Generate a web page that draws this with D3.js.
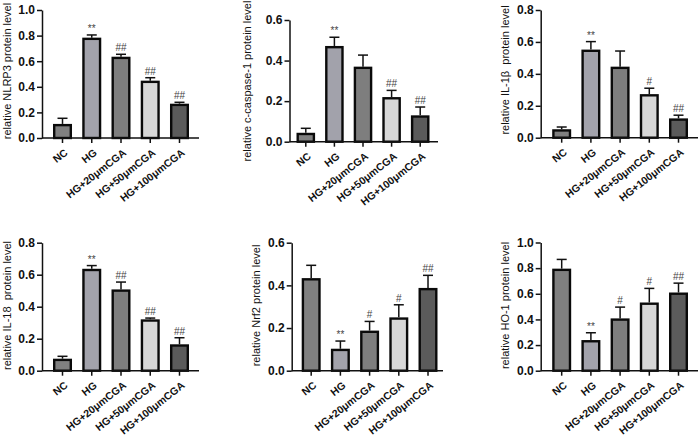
<!DOCTYPE html>
<html>
<head>
<meta charset="utf-8">
<script src="https://cdn.jsdelivr.net/npm/d3@7"></script>
<style>
  html, body { margin: 0; padding: 0; background: #fff; }
  svg { display: block; font-family: "Liberation Sans", Arial, sans-serif; }
</style>
</head>
<body>
<svg id="chart" width="700" height="437"></svg>
<script>
// ---------- data ----------
const categories = ["NC", "HG", "HG+20μmCGA", "HG+50μmCGA", "HG+100μmCGA"];
const barColors = ["#808080", "#a2a2ab", "#7e7e7e", "#d7d7d7", "#5b5b5b"];

const nlrp3Mean = [0.110, 0.784, 0.635, 0.448, 0.268];
const nlrp3Err  = [0.044, 0.021, 0.019, 0.023, 0.011];
const nlrp3Sig  = ["", "**", "##", "##", "##"];

const casp1Mean = [0.044, 0.472, 0.370, 0.220, 0.130];
const casp1Err  = [0.022, 0.043, 0.057, 0.033, 0.041];
const casp1Sig  = ["", "**", "", "##", "##"];

const il1bMean = [0.053, 0.552, 0.445, 0.273, 0.121];
const il1bErr  = [0.014, 0.050, 0.098, 0.037, 0.020];
const il1bSig  = ["", "**", "", "#", "##"];

const il18Mean = [0.075, 0.637, 0.508, 0.321, 0.165];
const il18Err  = [0.015, 0.020, 0.046, 0.008, 0.041];
const il18Sig  = ["", "**", "##", "##", "##"];

const nrf2Mean = [0.434, 0.103, 0.188, 0.250, 0.388];
const nrf2Err  = [0.060, 0.036, 0.043, 0.059, 0.059];
const nrf2Sig  = ["", "**", "#", "#", "##"];

const ho1Mean = [0.796, 0.239, 0.408, 0.532, 0.610];
const ho1Err  = [0.072, 0.057, 0.088, 0.110, 0.073];
const ho1Sig  = ["", "**", "#", "#", "##"];

const ticks10 = [0, 0.2, 0.4, 0.6, 0.8, 1.0];
const ticks08 = [0, 0.2, 0.4, 0.6, 0.8];
const ticks06 = [0, 0.2, 0.4, 0.6];

const yLabels = [
  "relative NLRP3 protein level",
  "relative c-caspase-1 protein level",
  "relative IL-1β  protein level",
  "relative IL-18  protein level",
  "relative Nrf2 protein level",
  "relative HO-1 protein level"
];

// ---------- layout ----------
const panels = [
  {mean: nlrp3Mean, err: nlrp3Err, sig: nlrp3Sig, ticks: ticks10, label: yLabels[0],
   ax: 42, axEnd: 199, yTop: 10, yBot: 138, padL: 11, padR: 10, labX: 7, labY: 71},
  {mean: casp1Mean, err: casp1Err, sig: casp1Sig, ticks: ticks06, label: yLabels[1],
   ax: 289.5, axEnd: 438, yTop: 20, yBot: 141.7, padL: 7, padR: 8.5, labX: 246.5, labY: 81},
  {mean: il1bMean, err: il1bErr, sig: il1bSig, ticks: ticks08, label: yLabels[2],
   ax: 540.7, axEnd: 698, yTop: 10, yBot: 137.7, padL: 11.5, padR: 10, labX: 505, labY: 70},
  {mean: il18Mean, err: il18Err, sig: il18Sig, ticks: ticks08, label: yLabels[3],
   ax: 42, axEnd: 199, yTop: 242.7, yBot: 370.7, padL: 11, padR: 10, labX: 7, labY: 305.5},
  {mean: nrf2Mean, err: nrf2Err, sig: nrf2Sig, ticks: ticks06, label: yLabels[4],
   ax: 291.7, axEnd: 443, yTop: 242.7, yBot: 370.7, padL: 10, padR: 5.5, labX: 255.5, labY: 305.5},
  {mean: ho1Mean, err: ho1Err, sig: ho1Sig, ticks: ticks10, label: yLabels[5],
   ax: 540.7, axEnd: 698, yTop: 242.5, yBot: 370.7, padL: 11.5, padR: 10, labX: 505, labY: 305.5}
];

const svg = d3.select("#chart");
const BORDER = 2.4;

panels.forEach(p => {
  const g = svg.append("g");
  const yMax = p.ticks[p.ticks.length - 1];
  const y = d3.scaleLinear().domain([0, yMax]).range([p.yBot, p.yTop]);
  const x = d3.scaleBand().domain(categories)
    .range([p.ax + p.padL, p.axEnd - p.padR])
    .paddingInner(0.35).paddingOuter(0);
  const bw = x.bandwidth();

  const rows = categories.map((c, i) => ({c, m: p.mean[i], e: p.err[i], s: p.sig[i], col: barColors[i]}));

  // error bars (upper only)
  const capW = 10;
  const eb = g.append("g");
  rows.forEach(r => {
    const cx = x(r.c) + bw / 2;
    eb.append("line").attr("x1", cx).attr("x2", cx)
      .attr("y1", y(r.m)).attr("y2", y(r.m + r.e))
      .attr("stroke", "#111").attr("stroke-width", 1.5);
    eb.append("line").attr("x1", cx - capW / 2).attr("x2", cx + capW / 2)
      .attr("y1", y(r.m + r.e)).attr("y2", y(r.m + r.e))
      .attr("stroke", "#111").attr("stroke-width", 1.5);
  });

  // bars
  g.append("g").selectAll("rect").data(rows).join("rect")
    .attr("x", d => x(d.c) + BORDER / 2)
    .attr("width", bw - BORDER)
    .attr("y", d => y(d.m) + BORDER / 2)
    .attr("height", d => Math.max(0, y(0) - y(d.m) - BORDER / 2))
    .attr("fill", d => d.col)
    .attr("stroke", "#0a0a0a")
    .attr("stroke-width", BORDER);

  // significance marks
  g.append("g").selectAll("text").data(rows.filter(r => r.s)).join("text")
    .attr("x", d => x(d.c) + bw / 2)
    .attr("y", d => y(d.m + d.e) - 3)
    .attr("text-anchor", "middle")
    .attr("font-size", 10)
    .attr("fill", "#444")
    .text(d => d.s);

  // y axis
  const yAxis = g.append("g").attr("transform", `translate(${p.ax},0)`)
    .call(d3.axisLeft(y).tickValues(p.ticks).tickFormat(d3.format(".1f"))
      .tickSize(5).tickSizeOuter(0).tickPadding(2));
  yAxis.select(".domain").attr("stroke", "#111").attr("stroke-width", 1.5);
  yAxis.selectAll(".tick line").attr("stroke", "#111").attr("stroke-width", 1.5);
  yAxis.selectAll(".tick text").attr("font-size", 12).attr("font-weight", "bold")
    .attr("fill", "#111").attr("font-family", "Liberation Sans, Arial, sans-serif");

  // x axis
  const xAxis = g.append("g").attr("transform", `translate(0,${p.yBot})`)
    .call(d3.axisBottom(x).tickSize(5).tickSizeOuter(0).tickPadding(2));
  xAxis.select(".domain").remove();
  xAxis.append("line").attr("x1", p.ax).attr("x2", p.axEnd).attr("y1", 0).attr("y2", 0)
    .attr("stroke", "#111").attr("stroke-width", 1.5);
  xAxis.selectAll(".tick line").attr("stroke", "#111").attr("stroke-width", 1.5);
  xAxis.selectAll(".tick text")
    .attr("font-size", 10.5).attr("font-weight", "bold").attr("fill", "#111")
    .attr("font-family", "Liberation Sans, Arial, sans-serif")
    .attr("text-anchor", "end")
    .attr("dy", null).attr("y", null)
    .attr("transform", "translate(6,16) rotate(-38)");

  // y label
  g.append("text")
    .attr("transform", `translate(${p.labX},${p.labY}) rotate(-90)`)
    .attr("text-anchor", "middle")
    .attr("dominant-baseline", "central")
    .attr("font-size", 11)
    .attr("fill", "#111")
    .style("white-space", "pre")
    .text(p.label);
});
</script>
</body>
</html>
